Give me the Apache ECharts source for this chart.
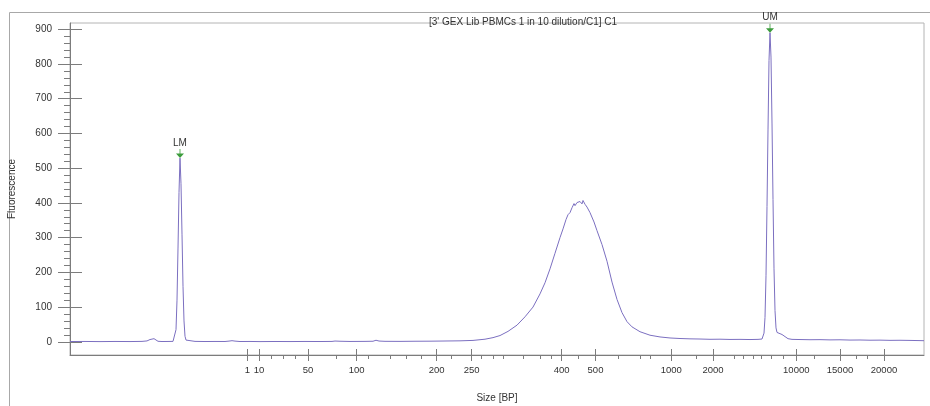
<!DOCTYPE html>
<html>
<head>
<meta charset="utf-8">
<script src="https://cdn.jsdelivr.net/npm/echarts@6/dist/echarts.min.js"></script>
<style>
  html, body { margin: 0; padding: 0; background: #fff; }
  #chart { width: 930px; height: 406px; }
</style>
</head>
<body>
<div id="chart"></div>
<script>
// migration position (plot units) and fluorescence
const position = [
  0, 15, 30, 45, 60, 72, 77, 80, 82, 84, 86, 88, 92, 98, 103,
  105, 106, 107, 108, 109, 110, 111, 112, 113, 114, 115, 116, 118,
  125, 135, 145, 155, 159, 162, 165, 170, 180, 190, 205, 220, 235, 250,
  262, 265, 267, 270, 280, 295, 303, 306, 309, 315, 330, 345, 360, 375, 390,
  403, 415, 423, 430, 438, 447, 455, 463, 470, 475, 480, 485, 490, 493, 496,
  498, 500, 502, 504, 505, 507, 509, 510, 512, 513, 515, 517, 520, 524, 527,
  532, 537, 542, 547, 552, 557, 562, 570, 580, 590, 600, 610, 620, 630, 640,
  650, 660, 670, 680, 688, 692, 694, 695, 696, 697, 698, 699, 700, 701, 702,
  703, 704, 705, 706, 707, 709, 712, 715, 718, 722, 730, 740, 750, 760, 770,
  780, 790, 800, 810, 820, 830, 840, 854
];
const fluorescence = [
  0.8, 1.0, 0.6, 1.0, 0.7, 1.2, 2.5, 6.5, 9.5, 9, 4.5, 1.5, 0.8, 1.0, 1.2,
  3, 35, 120, 270, 430, 529, 455, 310, 160, 60, 16, 5, 2,
  1.2, 0.8, 1.0, 0.9, 2, 3.2, 2, 0.8, 1.0, 0.6, 0.9, 0.7, 1.0, 0.8,
  1.1, 2.2, 3.5, 1.6, 1.0, 1.2, 1.6, 4.5, 2.2, 1.4, 1.2, 1.6, 1.8, 2.3, 2.8,
  4, 7.5, 12, 18, 30, 48, 72, 100, 138, 170, 210, 255, 300, 325, 352,
  366, 372, 386, 398, 392, 401, 396, 404, 397, 407, 396, 388, 372, 345, 320,
  280, 232, 172, 122, 84, 58, 43, 29, 19, 14, 11, 9.5, 8.5, 8, 7.2,
  7.5, 6.8, 7, 6.5, 7, 8, 25, 70, 190, 390, 610, 810, 890, 820, 630,
  410, 210, 90, 40, 27, 24, 21, 15, 9, 7, 6.5, 6, 6.2, 5.5, 5.8,
  5, 5.2, 4.6, 4.8, 4.2, 4.4, 4, 3.2
];

// size ladder on the x axis
const sizeTicks = [177.5, 189, 238, 286.7, 366.7, 401.7, 491.7, 525.5, 601.3, 643, 726.3, 770, 814];
const sizeLabels = ['1', '10', '50', '100', '200', '250', '400', '500', '1000', '2000', '10000', '15000', '20000'];
const sizeMinorTicks = [
  201.7, 213.3, 225.5, 266.7, 298, 320, 336.7, 351.7, 381.7, 411, 423.3, 433.3,
  453.3, 470, 481.7, 508.3, 548.3, 570, 580, 626.7, 664.3, 673, 683, 691.7,
  701, 713.3, 744.3, 786.7, 797.7
];

const yTicks = [0, 100, 200, 300, 400, 500, 600, 700, 800, 900];
const yMinorTicks = [
  20, 40, 60, 80, 120, 140, 160, 180, 220, 240, 260, 280, 320, 340, 360, 380,
  420, 440, 460, 480, 520, 540, 560, 580, 620, 640, 660, 680, 720, 740, 760, 780,
  820, 840, 860, 880
];

const markerNames = ['LM', 'UM'];
const title = "[3' GEX Lib PBMCs 1 in 10 dilution/C1] C1";

const FONT = "'Liberation Sans', Arial, sans-serif";
const axisColor = '#7c7c7c';

// find the marker peaks from the trace itself
function peakIndex(from, to){
  let best = -1;
  for (let i = 0; i < position.length; i++) {
    if (position[i] < from || position[i] > to) continue;
    if (best < 0 || fluorescence[i] > fluorescence[best]) best = i;
  }
  return best;
}
const lmIdx = peakIndex(0, 200);
const umIdx = peakIndex(650, 854);

const chart = echarts.init(document.getElementById('chart'), null, { renderer: 'canvas' });

const xRange = { min: 0, max: 854 };
const yRange = { min: -38, max: 918 };

function tickAxis(base, ticks, length, inside){
  return Object.assign({
    type: 'value',
    axisLine: { show: false, onZero: false },
    axisTick: { show: true, customValues: ticks, length, inside, lineStyle: { color: axisColor, width: 1 } },
    axisLabel: { show: false },
    splitLine: { show: false }
  }, base);
}

chart.setOption({
  animation: false,
  textStyle: { fontFamily: FONT },
  title: {
    text: title,
    left: 429,
    top: 17,
    padding: 0,
    textStyle: { fontSize: 10, fontWeight: 'normal', color: '#333', fontFamily: FONT }
  },
  graphic: [{
    type: 'rect',
    shape: { x: 9.5, y: 12.5, width: 960, height: 440 },
    style: { fill: 'none', stroke: '#a8a8a8', lineWidth: 1 },
    silent: true,
    z: -1
  }],
  grid: {
    left: 70, right: 6, top: 23, bottom: 51,
    outerBoundsMode: 'none',
    containLabel: false,
    show: true, borderColor: '#b4b4b4', borderWidth: 1
  },
  xAxis: [
    {
      type: 'value', ...xRange, position: 'bottom',
      axisLine: { show: true, onZero: false, lineStyle: { color: axisColor, width: 1 } },
      axisTick: { show: true, customValues: sizeTicks, length: 6, lineStyle: { color: axisColor } },
      axisLabel: {
        customValues: sizeTicks,
        formatter: v => sizeLabels[sizeTicks.indexOf(v)] ?? '',
        margin: 10, fontSize: 9.5, color: '#333', fontFamily: FONT
      },
      splitLine: { show: false },
      name: 'Size [BP]', nameLocation: 'middle', nameGap: 38,
      nameTextStyle: { fontSize: 10, color: '#333', fontFamily: FONT }
    },
    tickAxis({ ...xRange, position: 'bottom' }, sizeTicks, 6, true),
    tickAxis({ ...xRange, position: 'bottom' }, sizeMinorTicks, 4, false)
  ],
  yAxis: [
    {
      type: 'value', ...yRange, position: 'left',
      axisLine: { show: true, onZero: false, lineStyle: { color: axisColor, width: 1 } },
      axisTick: { show: true, customValues: yTicks, length: 12, lineStyle: { color: axisColor } },
      axisLabel: { customValues: yTicks, margin: 18, fontSize: 10, color: '#333', fontFamily: FONT },
      splitLine: { show: false },
      name: 'Fluorescence', nameLocation: 'middle', nameGap: 53,
      nameTextStyle: { fontSize: 10, color: '#333', fontFamily: FONT }
    },
    tickAxis({ ...yRange, position: 'left' }, yTicks, 12, true),
    tickAxis({ ...yRange, position: 'left' }, yMinorTicks, 6, false)
  ],
  series: [{
    type: 'line',
    xAxisIndex: 0,
    yAxisIndex: 0,
    data: position.map((p, i) => [p, fluorescence[i]]),
    showSymbol: false,
    lineStyle: { width: 1, color: '#7b6fc0' },
    markPoint: {
      symbol: 'path://M0,4.5 L8,4.5 L4,9 Z M3.6,0 L4.4,0 L4.4,4.5 L3.6,4.5 Z',
      symbolSize: [8, 9],
      symbolOffset: [0, -4.5],
      itemStyle: { color: '#3c9c3c' },
      label: {
        show: true, position: 'top', distance: 1,
        formatter: '{b}', fontSize: 10, color: '#333', fontFamily: FONT
      },
      data: [
        { name: markerNames[0], coord: [position[lmIdx], fluorescence[lmIdx]] },
        { name: markerNames[1], coord: [position[umIdx], fluorescence[umIdx]] }
      ]
    }
  }]
});
</script>
</body>
</html>
